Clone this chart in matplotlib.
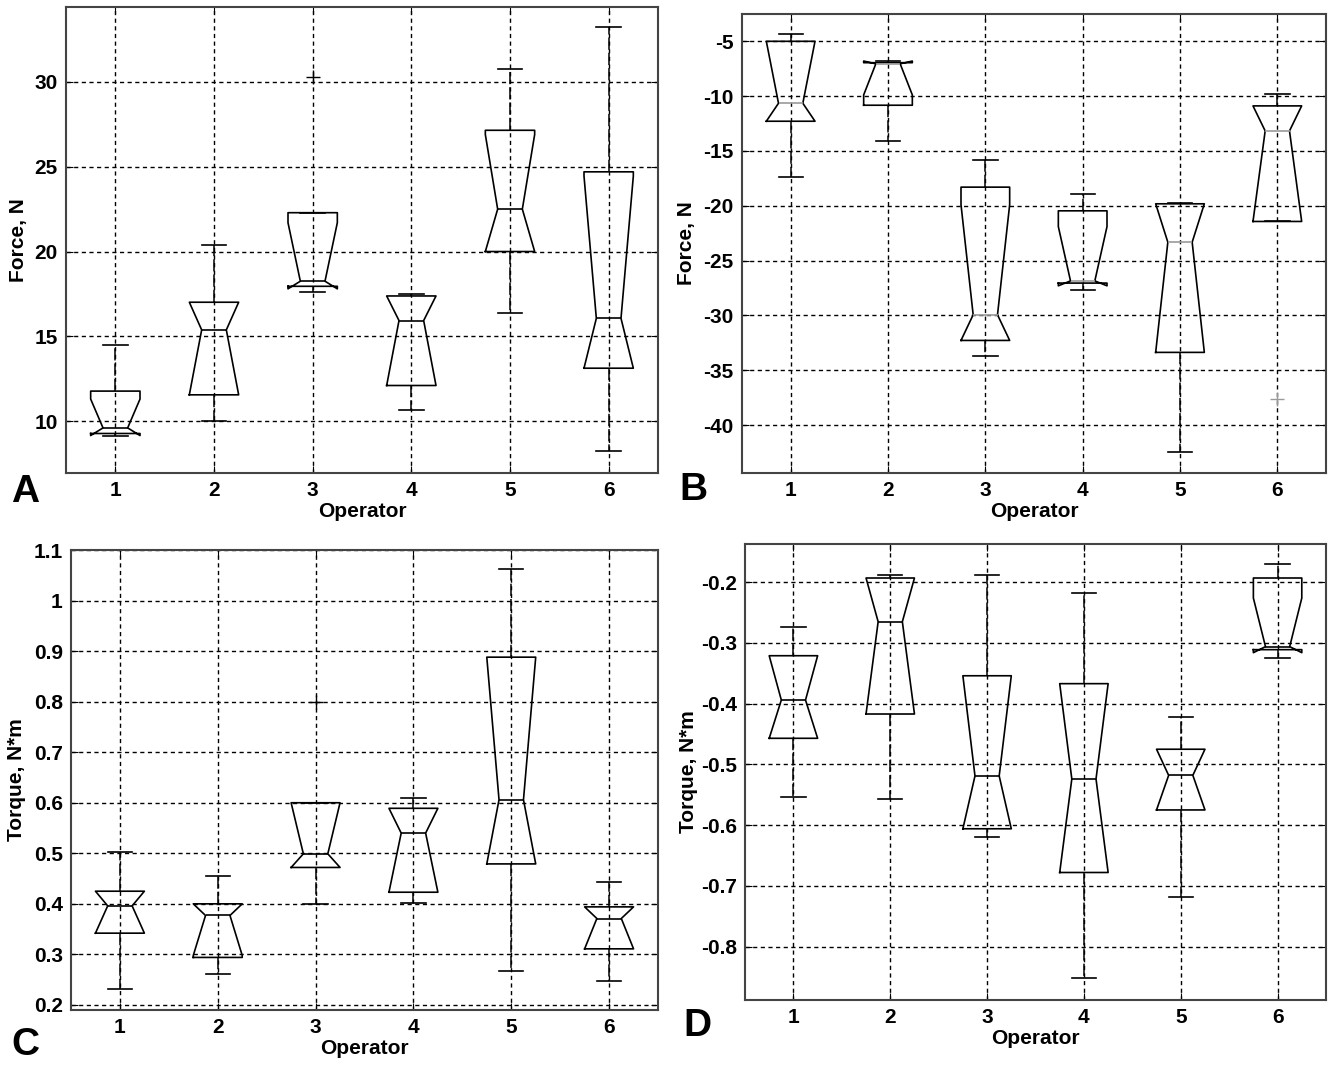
import matplotlib
matplotlib.use('Agg')
import matplotlib.pyplot as plt
from matplotlib.ticker import FormatStrFormatter

plt.rcParams['font.family'] = ['Liberation Sans', 'DejaVu Sans']
plt.rcParams['font.weight'] = 'bold'

operators = [1, 2, 3, 4, 5, 6]

# Panel A - Force, N (positive)
a_q1 = [9.27, 11.55, 17.95, 12.10, 20.00, 13.12]
a_med = [9.60, 15.38, 18.25, 15.93, 22.50, 16.06]
a_q3 = [11.77, 17.01, 22.29, 17.38, 27.15, 24.70]
a_cilo = [9.15, 11.55, 17.80, 12.10, 20.00, 13.12]
a_cihi = [11.30, 17.01, 21.70, 17.38, 26.90, 24.45]
a_whislo = [9.10, 10.00, 17.60, 10.67, 16.36, 8.21]
a_whishi = [14.46, 20.38, 22.29, 17.50, 30.79, 33.24]
a_fliers = [[], [], [30.3], [], [], []]

# Panel B - Force, N (negative)
b_q1 = [-12.29, -10.83, -32.28, -27.05, -33.37, -21.43]
b_med = [-10.65, -7.05, -29.94, -26.85, -23.32, -13.17]
b_q3 = [-5.00, -6.95, -18.30, -20.46, -19.82, -10.89]
b_cilo = [-12.29, -9.89, -32.28, -27.30, -33.37, -21.43]
b_cihi = [-5.00, -6.80, -19.90, -21.90, -19.82, -10.89]
b_whislo = [-17.42, -14.11, -33.74, -27.66, -42.45, -21.43]
b_whishi = [-4.36, -6.76, -15.87, -18.90, -19.76, -9.77]
b_fliers = [[], [], [], [], [], [-37.62]]

# Panel C - Torque, N*m (positive)
c_q1 = [0.342, 0.294, 0.472, 0.423, 0.479, 0.311]
c_med = [0.396, 0.377, 0.499, 0.540, 0.606, 0.371]
c_q3 = [0.425, 0.400, 0.600, 0.589, 0.888, 0.394]
c_cilo = [0.342, 0.298, 0.472, 0.423, 0.479, 0.311]
c_cihi = [0.425, 0.400, 0.600, 0.589, 0.888, 0.394]
c_whislo = [0.232, 0.261, 0.400, 0.402, 0.268, 0.248]
c_whishi = [0.503, 0.456, 0.600, 0.609, 1.062, 0.444]
c_fliers = [[], [], [0.80], [], [], []]

# Panel D - Torque, N*m (negative)
d_q1 = [-0.457, -0.417, -0.606, -0.678, -0.575, -0.311]
d_med = [-0.394, -0.265, -0.519, -0.524, -0.518, -0.306]
d_q3 = [-0.321, -0.193, -0.354, -0.367, -0.475, -0.193]
d_cilo = [-0.457, -0.417, -0.606, -0.678, -0.575, -0.316]
d_cihi = [-0.321, -0.193, -0.354, -0.367, -0.475, -0.226]
d_whislo = [-0.553, -0.557, -0.620, -0.852, -0.718, -0.324]
d_whishi = [-0.273, -0.188, -0.188, -0.217, -0.422, -0.170]
d_fliers = [[], [], [], [], [], []]

W, H = 1334, 1066


def px_rect(x0, y0, x1, y1):
    return [x0 / W, 1 - y1 / H, (x1 - x0) / W, (y1 - y0) / H]


def draw_panel(ax, q1, med, q3, cilo, cihi, whislo, whishi, fliers,
               ylim, yticks, ylabel, label_x, med_color='k', flier_color='k'):
    stats = []
    for i in range(len(operators)):
        stats.append(dict(q1=q1[i], med=med[i], q3=q3[i], cilo=cilo[i],
                          cihi=cihi[i], whislo=whislo[i], whishi=whishi[i],
                          fliers=fliers[i]))
    ax.bxp(stats, positions=operators, widths=0.5, capwidths=0.25,
           shownotches=True, showfliers=True, manage_ticks=False,
           boxprops=dict(color='k', linewidth=1.2),
           medianprops=dict(color=med_color, linewidth=1.2),
           whiskerprops=dict(color='k', linewidth=1.1, linestyle=(0, (8, 2))),
           capprops=dict(color='k', linewidth=1.2),
           flierprops=dict(marker='+', markeredgecolor=flier_color,
                           markersize=10, markeredgewidth=1.0))
    ax.set_xlim(0.5, 6.5)
    ax.set_ylim(*ylim)
    ax.set_xticks(operators)
    ax.set_yticks(yticks)
    ax.yaxis.set_major_formatter(FormatStrFormatter('%g'))
    ax.set_axisbelow(True)
    ax.grid(True, color='k', linestyle=(0, (3, 2.5)), linewidth=1.0)
    ax.tick_params(direction='in', length=5, top=True, right=True,
                   labelsize=15, pad=6)
    for lab in ax.get_xticklabels() + ax.get_yticklabels():
        lab.set_fontweight('bold')
    for sp in ax.spines.values():
        sp.set_color('#444444')
        sp.set_linewidth(1.5)
    ax.set_xlabel('Operator', fontsize=15, fontweight='bold', labelpad=1)
    ax.set_ylabel(ylabel, fontsize=15, fontweight='bold')
    ax.yaxis.set_label_coords(label_x, 0.5)


fig = plt.figure(figsize=(W / 100, H / 100), dpi=100)

ax_a = fig.add_axes(px_rect(66, 7, 658, 473))
draw_panel(ax_a, a_q1, a_med, a_q3, a_cilo, a_cihi, a_whislo, a_whishi, a_fliers,
           (6.94, 34.42), [10, 15, 20, 25, 30], 'Force, N', -0.064)

ax_b = fig.add_axes(px_rect(742, 14, 1326, 473))
draw_panel(ax_b, b_q1, b_med, b_q3, b_cilo, b_cihi, b_whislo, b_whishi, b_fliers,
           (-44.37, -2.51), [-40, -35, -30, -25, -20, -15, -10, -5], 'Force, N', -0.079,
           med_color='#9a9a9a', flier_color='#9a9a9a')

ax_c = fig.add_axes(px_rect(71, 550, 658, 1010))
draw_panel(ax_c, c_q1, c_med, c_q3, c_cilo, c_cihi, c_whislo, c_whishi, c_fliers,
           (0.19, 1.1), [0.2, 0.3, 0.4, 0.5, 0.6, 0.7, 0.8, 0.9, 1.0, 1.1],
           'Torque, N*m', -0.077)

ax_d = fig.add_axes(px_rect(745, 544, 1326, 1000))
draw_panel(ax_d, d_q1, d_med, d_q3, d_cilo, d_cihi, d_whislo, d_whishi, d_fliers,
           (-0.888, -0.137), [-0.8, -0.7, -0.6, -0.5, -0.4, -0.3, -0.2],
           'Torque, N*m', -0.081)

for letter, x, y in [('A', 25, 492), ('B', 693, 490), ('C', 25, 1045), ('D', 697, 1026)]:
    fig.text(x / W, 1 - y / H, letter, fontsize=28, fontweight='bold',
             ha='center', va='center')

fig.savefig('out.png', dpi=100)
plt.close(fig)
